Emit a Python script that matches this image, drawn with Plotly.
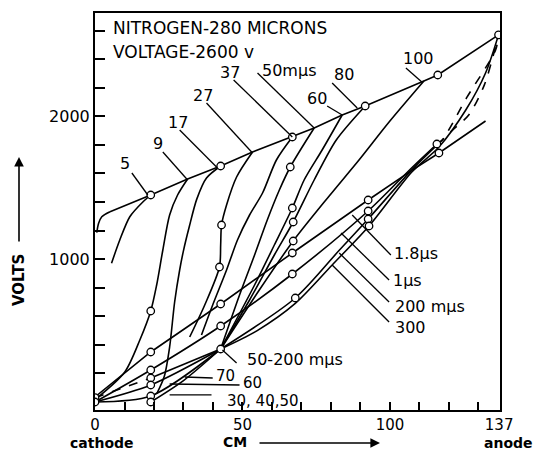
import plotly.graph_objects as go

# ---------------- data (x in cm, voltage in volts) ----------------
env_x = [5.1, 18.9, 31.4, 42.6, 53.4, 66.9, 74.3, 83.8, 91.6, 111.5, 116.2, 136.8]
env_v = [1332, 1449, 1561, 1652, 1750, 1855, 1918, 2009, 2072, 2247, 2289, 2570]

c0_x = [0.6, 1.2, 2.3, 5.1]
c0_v = [1185, 1250, 1297, 1332]
c5_x = [5.6, 8.4, 11.8, 16.3, 18.9]
c5_v = [971, 1134, 1297, 1402, 1449]
c9_x = [0.7, 10.1, 15.2, 18.9, 20.9, 23.0, 25.3, 28.0, 31.4]
c9_v = [28, 210, 434, 637, 819, 1064, 1309, 1449, 1561]
c17_x = [21.0, 23.5, 25.3, 27.0, 28.7, 30.0, 32.0, 34.5, 37.8, 42.6]
c17_v = [60, 180, 385, 700, 924, 1060, 1230, 1420, 1568, 1652]
c27_x = [32.1, 37.2, 42.2, 42.6, 42.9, 44.6, 48.0, 53.4]
c27_v = [455, 679, 945, 1099, 1239, 1379, 1575, 1750]
c37_x = [36.1, 39.9, 44.6, 48.3, 52.4, 56.8, 61.5, 66.9]
c37_v = [469, 679, 924, 1134, 1309, 1463, 1694, 1855]
c50_x = [42.6, 49.0, 54.1, 58.4, 62.5, 66.2, 74.3]
c50_v = [371, 749, 1029, 1274, 1484, 1645, 1918]
c60_x = [42.6, 54.1, 60.8, 66.9, 70.9, 77.0, 83.8]
c60_v = [371, 819, 1099, 1358, 1554, 1764, 2009]
c80_x = [42.6, 52.4, 60.8, 67.2, 74.3, 81.8, 91.6]
c80_v = [371, 714, 1029, 1260, 1554, 1834, 2072]
c100_x = [42.6, 55.7, 67.2, 79.4, 89.5, 99.7, 111.5]
c100_v = [371, 784, 1127, 1442, 1694, 1960, 2247]

c18us_x = [0, 18.9, 42.6, 66.9, 92.6, 107.4, 116.6, 132.4]
c18us_v = [35, 350, 686, 1043, 1414, 1621, 1743, 1967]
c1us_x = [0, 18.9, 42.6, 66.9, 92.6, 107.4, 115.9]
c1us_v = [0, 224, 532, 896, 1337, 1640, 1806]
c1us_dash_x = [115.9, 117.6, 126.0, 135.8, 136.8]
c1us_dash_v = [1806, 1830, 2130, 2464, 2570]
c200_x = [42.6, 67.9, 82.8, 92.6, 107.4, 116.0]
c200_v = [371, 728, 1062, 1281, 1625, 1800]
c200_dash_x = [116.0, 121.0, 126.7, 132.0, 136.8]
c200_dash_v = [1800, 1900, 2009, 2220, 2570]
c300_x = [42.6, 55.0, 67.9, 80.4, 92.9, 107.4, 116.6, 125.7, 132.4, 136.8]
c300_v = [371, 500, 690, 959, 1232, 1610, 1785, 2044, 2303, 2570]

c70_dash_x = [0, 18.9]
c70_dash_v = [30, 168]
c70_x = [18.9, 42.6]
c70_v = [168, 371]
c60low_x = [0, 18.9, 42.6]
c60low_v = [0, 119, 371]
c30_x = [0, 18.9, 42.6]
c30_v = [0, 42, 371]
c40_x = [18.9, 30.0, 42.6]
c40_v = [0, 150, 371]

pts_x = [0, 0, 18.9, 18.9, 18.9, 18.9, 18.9, 18.9, 18.9, 18.9, 42.6, 42.9, 42.2, 42.6,
         42.6, 42.6, 66.9, 66.2, 66.9, 67.2, 67.2, 66.9, 66.9, 67.9, 91.6, 92.6, 92.6,
         92.6, 92.9, 116.2, 115.9, 116.6, 136.8]
pts_v = [30, 0, 637, 350, 224, 168, 119, 42, 0, 1449, 1652, 1239, 945, 686,
         532, 371, 1855, 1645, 1358, 1260, 1127, 1043, 896, 728, 2072, 1414, 1337,
         1281, 1232, 2289, 1806, 1743, 2570]

# label text, text position, leader start, leader end
label_text = ["5", "9", "17", "27", "37", "50mμs", "60", "80", "100",
              "1.8μs", "1μs", "200 mμs", "300", "50-200 mμs", "70", "60", "30, 40,50"]
label_x = [10.1, 21.3, 28.0, 36.5, 45.6, 65.9, 75.3, 84.5, 109.5,
           108.8, 106.1, 113.5, 106.8, 67.9, 44.3, 53.4, 57.1]
label_v = [1673, 1813, 1960, 2149, 2310, 2324, 2128, 2296, 2408,
           1043, 854, 672, 525, 301, 185, 134, 10]
label_size = [16, 16, 16, 16, 16, 16, 16, 16, 16,
              16, 16, 16, 16, 16, 15, 15, 15]
leader_x0 = [12.5, 23.0, 28.7, 37.8, 47.0, 55.1, 78.7, 80.4, 105.4,
             100.3, 99.7, 99.7, 99.7, 48.0, 30.4, 25.3, 25.3]
leader_v0 = [1603, 1750, 1904, 2093, 2254, 2303, 2072, 2233, 2338,
             1029, 854, 700, 560, 273, 175, 126, 50]
leader_x1 = [17.9, 31.4, 41.2, 53.4, 66.9, 74.3, 83.8, 88.9, 110.8,
             87.2, 83.4, 82.8, 80.4, 43.2, 39.9, 49.0, 39.5]
leader_v1 = [1449, 1554, 1645, 1743, 1855, 1918, 2009, 2058, 2240,
             1309, 1183, 1043, 959, 364, 168, 119, 50]

x_tickvals = [0, 10, 20, 30, 40, 50, 60, 70, 80, 90, 100, 110, 120, 130, 137]
x_ticktext = ["0", "", "", "", "", "50", "", "", "", "", "100", "", "", "", "137"]
y_tickvals = [200, 400, 600, 800, 1000, 1200, 1400, 1600, 1800, 2000, 2200, 2400, 2600]
y_ticktext = ["", "", "", "", "1000", "", "", "", "", "2000", "", "", ""]

# ---------------- figure ----------------
FONT = "DejaVu Sans"
LW = 1.6
fig = go.Figure()


def add_line(xs, vs, dash="solid", shape="spline", width=LW):
    fig.add_trace(go.Scatter(
        x=xs, y=vs, mode="lines",
        line=dict(color="black", width=width, dash=dash, shape=shape,
                  smoothing=0.8 if shape == "spline" else None),
        hoverinfo="skip", showlegend=False))


add_line(env_x, env_v, shape="linear")
for xs, vs in [(c0_x, c0_v), (c5_x, c5_v), (c9_x, c9_v), (c17_x, c17_v),
               (c27_x, c27_v), (c37_x, c37_v), (c50_x, c50_v), (c60_x, c60_v),
               (c80_x, c80_v), (c100_x, c100_v), (c1us_x, c1us_v),
               (c200_x, c200_v), (c300_x, c300_v), (c60low_x, c60low_v),
               (c30_x, c30_v), (c40_x, c40_v)]:
    add_line(xs, vs)
add_line(c18us_x, c18us_v, shape="linear")
add_line(c70_x, c70_v, shape="linear")
add_line(c70_dash_x, c70_dash_v, dash="dash", shape="linear")
add_line(c1us_dash_x, c1us_dash_v, dash="dash")
add_line(c200_dash_x, c200_dash_v, dash="dash")

fig.add_trace(go.Scatter(
    x=pts_x, y=pts_v, mode="markers",
    marker=dict(symbol="circle", size=7.5, color="white",
                line=dict(color="black", width=1.3)),
    hoverinfo="skip", showlegend=False))

# labels and leaders
for t, x, v, s, x0, v0, x1, v1 in zip(label_text, label_x, label_v, label_size,
                                      leader_x0, leader_v0, leader_x1, leader_v1):
    fig.add_shape(type="line", xref="x", yref="y", x0=x0, y0=v0, x1=x1, y1=v1,
                  line=dict(color="black", width=1.3))
    fig.add_annotation(x=x, y=v, xref="x", yref="y", text=t, showarrow=False,
                       xanchor="center", yanchor="middle",
                       font=dict(family=FONT, size=s, color="black"))

# title lines
fig.add_annotation(x=5.5, y=2618, xref="x", yref="y", text="NITROGEN-280 MICRONS",
                   showarrow=False, xanchor="left", yanchor="middle",
                   font=dict(family=FONT, size=17, color="black"))
fig.add_annotation(x=5.5, y=2450, xref="x", yref="y", text="VOLTAGE-2600 v",
                   showarrow=False, xanchor="left", yanchor="middle",
                   font=dict(family=FONT, size=17, color="black"))

# axis captions
def caption(text, px, py, angle=0, size=14):
    fig.add_annotation(x=(px - 95) / 405, y=(410 - py) / 397, xref="paper", yref="paper",
                       text=text, showarrow=False, xanchor="center", yanchor="middle",
                       textangle=angle, font=dict(family=FONT, size=size, color="black"))


caption("<b>cathode</b>", 102, 442.5)
caption("<b>anode</b>", 509, 442.5)
caption("<b>CM</b>", 235, 442)
caption("<b>VOLTS</b>", 19, 280, angle=-90, size=15)

fig.add_annotation(x=(380 - 95) / 405, y=(410 - 443) / 397, xref="paper", yref="paper",
                   text="", showarrow=True, ax=-122, ay=0, arrowhead=2, arrowsize=1.2,
                   arrowwidth=1.6, arrowcolor="black")
fig.add_annotation(x=(19 - 95) / 405, y=(410 - 157) / 397, xref="paper", yref="paper",
                   text="", showarrow=True, ax=0, ay=86, arrowhead=2, arrowsize=1.2,
                   arrowwidth=1.6, arrowcolor="black")

fig.update_layout(
    width=535, height=451,
    margin=dict(l=95, r=35, t=13, b=41),
    paper_bgcolor="white", plot_bgcolor="white",
    font=dict(family=FONT, size=16, color="black"),
    xaxis=dict(range=[0, 137.3], showgrid=False, zeroline=False,
               showline=True, mirror=True, linecolor="black", linewidth=2,
               ticks="inside", ticklen=8, tickwidth=1.5, tickcolor="black",
               tickvals=x_tickvals, ticktext=x_ticktext,
               tickfont=dict(family=FONT, size=15)),
    yaxis=dict(range=[-56, 2723], showgrid=False, zeroline=False,
               showline=True, mirror=True, linecolor="black", linewidth=2,
               ticks="inside", ticklen=10, tickwidth=1.5, tickcolor="black",
               tickvals=y_tickvals, ticktext=y_ticktext,
               tickfont=dict(family=FONT, size=16)),
)

fig.write_html("out.html")
